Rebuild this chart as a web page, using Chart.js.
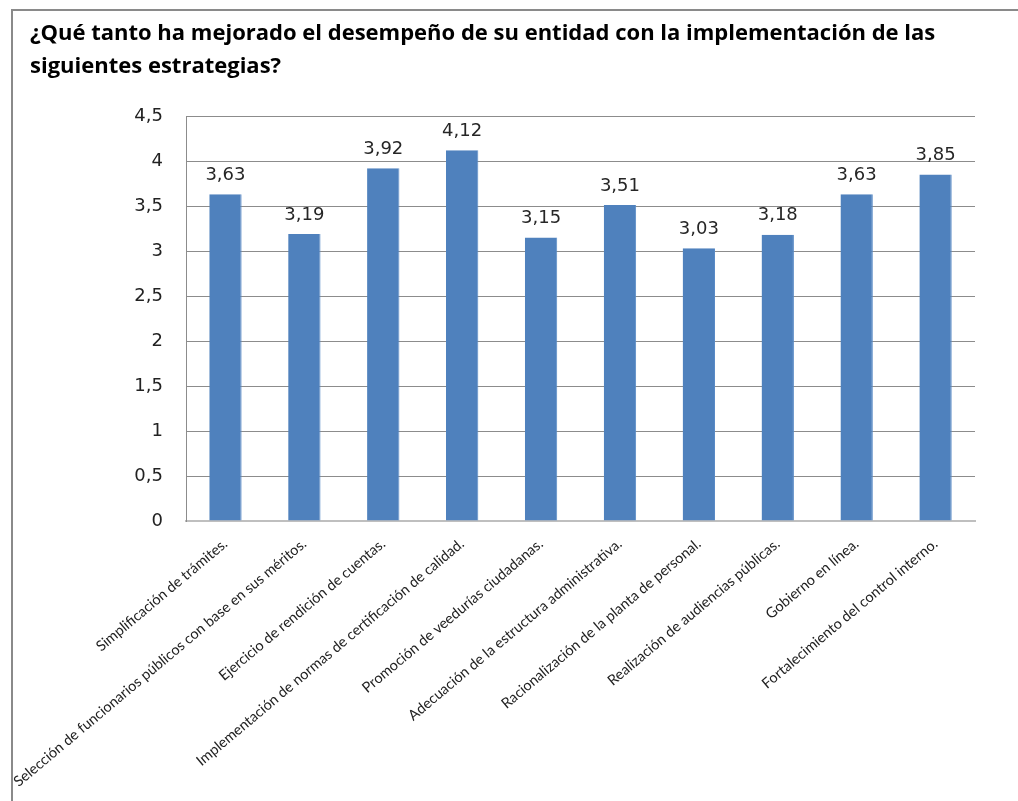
<!DOCTYPE html>
<html>
<head>
<meta charset="utf-8">
<script src="https://cdn.jsdelivr.net/npm/chart.js@4.4.1/dist/chart.umd.min.js"></script>
<style>
  html, body { margin: 0; padding: 0; background: #fff; }
  #wrap { position: relative; width: 1018px; height: 801px; overflow: hidden; }
  #frame { position: absolute; left: 11px; top: 9px; width: 1100px; height: 900px;
           border-top: 2px solid #8a8a8a; border-left: 2px solid #8a8a8a; }
  canvas { position: absolute; left: 0; top: 0; }
</style>
</head>
<body>
<div id="wrap">
  <div id="frame"></div>
  <canvas id="chart" width="1018" height="801"></canvas>
</div>
<script>
// Data
const titleLines = [
  '¿Qué tanto ha mejorado el desempeño de su entidad con la implementación de las',
  'siguientes estrategias?'
];
const estrategias = [
  'Simplificación de trámites.',
  'Selección de funcionarios públicos con base en sus méritos.',
  'Ejercicio de rendición de cuentas.',
  'Implementación de normas de certificación de calidad.',
  'Promoción de veedurías ciudadanas.',
  'Adecuación de la estructura administrativa.',
  'Racionalización de la planta de personal.',
  'Realización de audiencias públicas.',
  'Gobierno en línea.',
  'Fortalecimiento del control interno.'
];
const promedios = [3.63, 3.19, 3.92, 4.12, 3.15, 3.51, 3.03, 3.18, 3.63, 3.85];
const yMax = 4.5;
const yStep = 0.5;

const comma = v => String(v).replace('.', ',');

// labels over the bars
const valueLabels = {
  id: 'valueLabels',
  afterDatasetsDraw(chart) {
    const ctx = chart.ctx;
    const meta = chart.getDatasetMeta(0);
    ctx.save();
    ctx.font = '18px "DejaVu Sans"';
    ctx.fillStyle = '#262626';
    ctx.textAlign = 'center';
    ctx.textBaseline = 'middle';
    meta.data.forEach((bar, i) => {
      ctx.fillText(comma(promedios[i].toFixed(2)), bar.x, bar.y - 19);
    });
    ctx.restore();
  }
};

const data = {
  labels: estrategias,
  datasets: [{
    data: promedios,
    backgroundColor: '#4f81bd',
    borderColor: '#5a8bc6',
    borderWidth: { left: 0, right: 1, top: 0, bottom: 0 },
    barPercentage: 0.41,
    categoryPercentage: 1
  }]
};

const config = {
  type: 'bar',
  data: data,
  options: {
    responsive: false,
    animation: false,
    layout: { padding: { left: 30, right: 43, top: 0, bottom: 0 } },
    plugins: {
      legend: { display: false },
      tooltip: { enabled: false },
      title: {
        display: true,
        text: titleLines,
        align: 'start',
        color: '#000',
        font: { family: 'Open Sans', size: 22, weight: 'bold', lineHeight: 1.5 },
        padding: { top: 17, bottom: 33 }
      }
    },
    scales: {
      x: {
        grid: { display: false, drawTicks: false },
        border: { color: '#bfbfbf', width: 2 },
        ticks: {
          color: '#222',
          font: { family: 'Lato', size: 14.5 },
          minRotation: 40,
          maxRotation: 40,
          autoSkip: false,
          padding: 14
        },
        afterFit(scale) { scale.height = 280; }
      },
      y: {
        min: 0,
        max: yMax,
        grid: { color: '#8c8c8c', lineWidth: 1, drawTicks: false },
        border: { color: '#8c8c8c', width: 1 },
        ticks: {
          stepSize: yStep,
          color: '#222',
          font: { family: 'DejaVu Sans', size: 18 },
          padding: 23,
          callback: v => comma(v)
        },
        afterFit(scale) { scale.width = 156; }
      }
    }
  },
  plugins: [valueLabels]
};

var myChart = new Chart(document.getElementById('chart'), config);
</script>
</body>
</html>
